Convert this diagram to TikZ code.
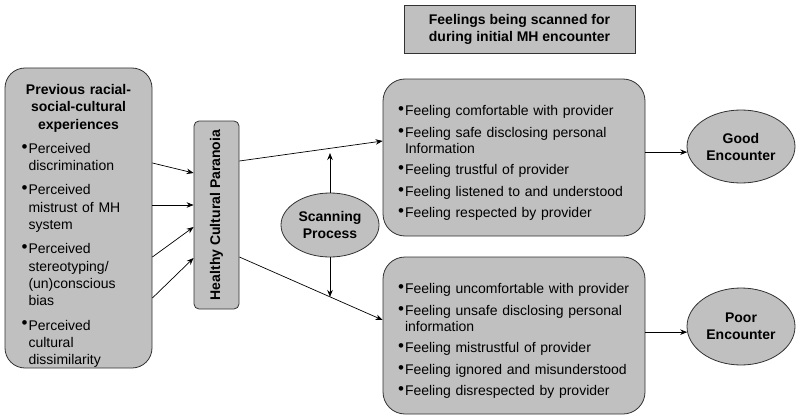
\documentclass[tikz,border=0pt]{standalone}
\usepackage{fontspec}
\setmainfont{Liberation Sans}
\usetikzlibrary{shapes.geometric}
\usetikzlibrary{arrows.meta}
\definecolor{box-gray}{RGB}{192, 192, 192}
\definecolor{edge-gray}{RGB}{50, 50, 50}
\newcommand{\bul}{\makebox[7pt][l]{\raisebox{1.2pt}{\fontsize{17}{17}\selectfont\textbullet}}}
\newcommand{\fitem}[1]{\par\hangindent=7pt\hangafter=1\noindent\bul#1}
\tikzset{
  rbox/.style={draw=edge-gray, fill=box-gray, rounded corners=20pt, line width=0.8pt, inner sep=0pt, font=\fontsize{14}{17.3}\selectfont},
  oval/.style={ellipse, draw=edge-gray, fill=box-gray, line width=0.8pt, inner sep=0pt, align=center, font=\fontsize{14}{17}\selectfont\bfseries},
  link/.style={-{Stealth[length=7pt,width=5.5pt]}, line width=0.7pt}
}

\begin{document}
\begin{tikzpicture}[x=1pt, y=-1pt]
\useasboundingbox (0,0) rectangle (800,420);
\node[draw=edge-gray, fill=box-gray, line width=0.8pt, minimum width=231pt, minimum height=48pt, align=center, font=\fontsize{14}{17}\selectfont\bfseries] (title) at (519.5,29) {Feelings being scanned for\\during initial MH encounter};
\node[rbox, minimum width=147pt, minimum height=300pt, text width=114pt] (prev) at (78.5,218) {{\centering\bfseries\setlength{\parskip}{0pt}\rule{0pt}{26pt}Previous racial-\par social-cultural\par experiences\par}\setlength{\parskip}{7pt}\raggedright
\fitem{Perceived\newline discrimination}
\fitem{Perceived\newline mistrust of MH\newline system}
\fitem{Perceived\newline stereotyping/\newline (un)conscious\newline bias}
\fitem{Perceived\newline cultural\newline dissimilarity}\par};
\node[rbox, rounded corners=5pt, minimum width=45pt, minimum height=188pt] (hcp) at (216.5,215) {\rotatebox{90}{\bfseries Healthy Cultural Paranoia}};
\node[oval, minimum width=98pt, minimum height=64pt] (scan) at (330,225) {Scanning\\Process};
\coordinate (scantop) at (330,153);
\coordinate (scanbot) at (330,297);
\node[rbox, rounded corners=22pt, minimum width=262pt, minimum height=157pt, text width=240pt, font=\fontsize{14}{15.6}\selectfont] (feelgood) at (514,157.5) {\setlength{\parskip}{6pt}\raggedright\leftskip=4pt
\fitem{Feeling comfortable with provider}
\fitem{Feeling safe disclosing personal\newline Information}
\fitem{Feeling trustful of provider}
\fitem{Feeling listened to and understood}
\fitem{Feeling respected by provider}\par};
\node[rbox, rounded corners=22pt, minimum width=262pt, minimum height=157pt, text width=240pt, font=\fontsize{14}{15.6}\selectfont] (feelpoor) at (514,335.5) {\setlength{\parskip}{6pt}\raggedright\leftskip=4pt
\fitem{Feeling uncomfortable with provider}
\fitem{Feeling unsafe disclosing personal\newline information}
\fitem{Feeling mistrustful of provider}
\fitem{Feeling ignored and misunderstood}
\fitem{Feeling disrespected by provider}\par};
\node[oval, minimum width=108pt, minimum height=73pt] (good) at (741,146.5) {Good\\Encounter};
\node[oval, minimum width=108pt, minimum height=77pt] (poor) at (741,326.5) {Poor\\Encounter};
% experiences into paranoia
\draw[link] ([yshift=55pt]prev.east) -- ([yshift=42pt]hcp.west);
\draw[link] ([yshift=13pt]prev.east) -- ([yshift=10pt]hcp.west);
\draw[link] ([yshift=-39pt]prev.east) -- ([yshift=-12pt]hcp.west);
\draw[link] ([yshift=-80pt]prev.east) -- ([yshift=-43pt]hcp.west);
% paranoia to feelings
\draw[link] ([yshift=54pt]hcp.east) -- ([yshift=16.5pt]feelgood.west);
\draw[link] ([yshift=-42pt]hcp.east) -- ([yshift=15.5pt]feelpoor.west);
\draw[link] (scan.north) -- (scantop);
\draw[link] (scan.south) -- (scanbot);
% feelings to outcome
\draw[link] (feelgood.east |- good.186) -- (good.186);
\draw[link] (feelpoor.east |- poor.186) -- (poor.186);
\end{tikzpicture}
\end{document}
